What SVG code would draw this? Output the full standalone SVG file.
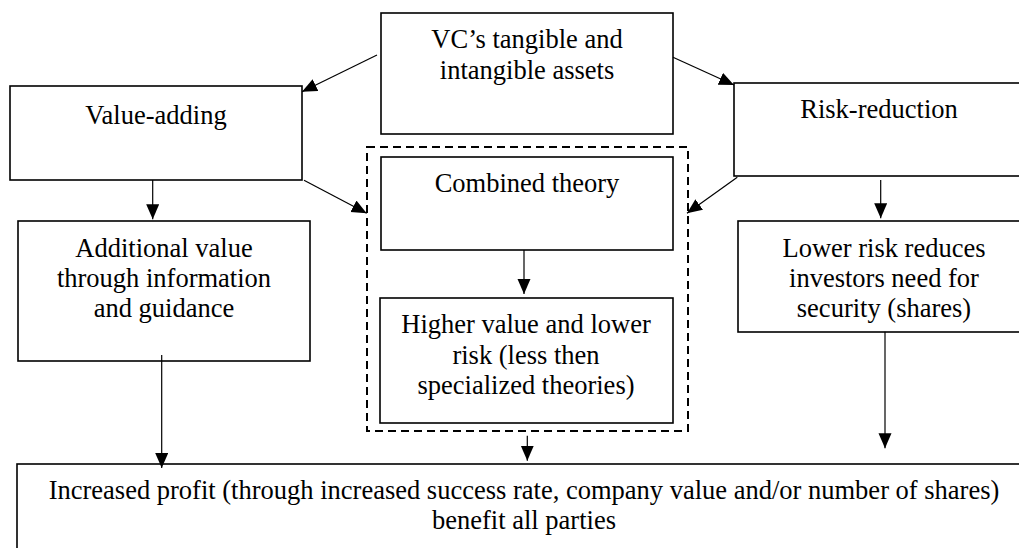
<svg xmlns="http://www.w3.org/2000/svg" width="1019" height="548" viewBox="0 0 1019 548">
<style>
.box{fill:#fff;stroke:#000;stroke-width:1.6}
.dash{fill:none;stroke:#000;stroke-width:2;stroke-dasharray:8 5}
.t{font-size:26.5px;fill:#000;text-anchor:middle}
.c{stroke:#000;stroke-width:1.2;fill:none;marker-end:url(#ah)}
</style>
<defs>
<marker id="ah" markerUnits="userSpaceOnUse" markerWidth="16" markerHeight="14" refX="15" refY="6.5" orient="auto">
<path d="M0,0 L15,6.5 L0,13 z" fill="#000"/>
</marker>
</defs>
<rect width="1019" height="548" fill="#fff"/>
<g font-family="'Liberation Serif', 'Times New Roman', 'DejaVu Serif', serif">
<g id="vc"><rect class="box" x="381" y="13" width="292" height="121"/>
<text class="t" x="527" y="48">VC’s tangible and</text><text class="t" x="527" y="79">intangible assets</text></g>
<g id="value-adding"><rect class="box" x="10" y="86" width="292" height="94"/>
<text class="t" x="156" y="124">Value-adding</text></g>
<g id="risk-reduction"><rect class="box" x="734" y="83" width="300" height="93"/>
<text class="t" x="879" y="118">Risk-reduction</text></g>
<g id="combined-group"><rect class="dash" x="367" y="147" width="321" height="284"/></g>
<g id="combined"><rect class="box" x="381" y="157" width="292" height="93"/>
<text class="t" x="527" y="192">Combined theory</text></g>
<g id="additional"><rect class="box" x="18" y="221" width="292" height="140"/>
<text class="t" x="164" y="257">Additional value</text><text class="t" x="164" y="287">through information</text><text class="t" x="164" y="317">and guidance</text></g>
<g id="lower-risk"><rect class="box" x="738" y="221" width="300" height="111"/>
<text class="t" x="884" y="257">Lower risk reduces</text><text class="t" x="884" y="287">investors need for</text><text class="t" x="884" y="317">security (shares)</text></g>
<g id="higher"><rect class="box" x="380" y="298" width="293" height="125"/>
<text class="t" x="526" y="333">Higher value and lower</text><text class="t" x="526" y="364">risk (less then</text><text class="t" x="526" y="394">specialized theories)</text></g>
<g id="profit"><rect class="box" x="17" y="464" width="1020" height="100"/>
<text class="t" x="524" y="499">Increased profit (through increased success rate, company value and/or number of shares)</text><text class="t" x="524" y="529">benefit all parties</text></g>
</g>
<g id="connectors">
<line class="c" x1="377" y1="55" x2="302" y2="91.7"/>
<line class="c" x1="673" y1="57.3" x2="734" y2="85"/>
<line class="c" x1="304" y1="180.3" x2="366.7" y2="213.3"/>
<line class="c" x1="737.3" y1="177.3" x2="687" y2="213.3"/>
<line class="c" x1="152.7" y1="180" x2="152.7" y2="219.3"/>
<line class="c" x1="880.7" y1="180" x2="880.7" y2="218.3"/>
<line class="c" x1="524" y1="250" x2="524" y2="294"/>
<line class="c" x1="161.7" y1="355" x2="161.7" y2="468"/>
<line class="c" x1="527.3" y1="435.7" x2="527.3" y2="460.7"/>
<line class="c" x1="885" y1="331.7" x2="885" y2="448.3"/>
</g>
</svg>
